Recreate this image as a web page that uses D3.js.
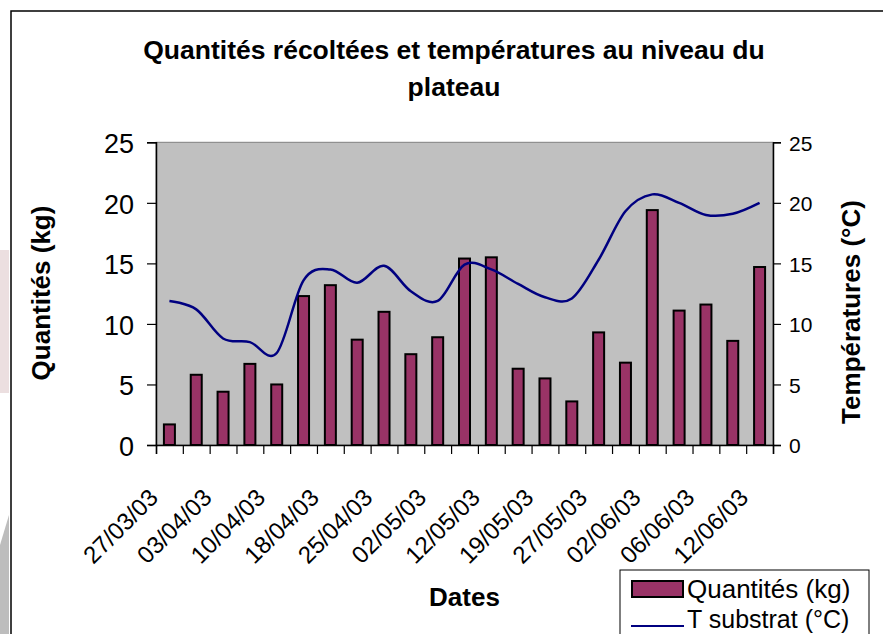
<!doctype html>
<html lang="fr">
  <head>
    <meta charset="utf-8">
    <title>Quantités récoltées et températures</title>
    <style>
      html, body { margin: 0; padding: 0; background: #fff; }
      svg { display: block; font-family: "Liberation Sans", Arial, sans-serif; }
    </style>
  </head>
  <body>
    <div id="chart"></div>

    <script src="https://cdn.jsdelivr.net/npm/d3@7"></script>
    <script>

    // dates shown on the axis (one every two categories, the others are not labelled)
    var dateLabels = ["27/03/03", "", "03/04/03", "", "10/04/03", "", "18/04/03", "", "25/04/03", "",
                      "02/05/03", "", "12/05/03", "", "19/05/03", "", "27/05/03", "", "02/06/03", "",
                      "06/06/03", "", "12/06/03"];

    // Quantités (kg)
    var quantites = [1.7, 5.8, 4.4, 6.7, 5.0, 12.3, 13.2, 8.7, 11.0, 7.5, 8.9, 15.4,
                     15.5, 6.3, 5.5, 3.6, 9.3, 6.8, 19.4, 11.1, 11.6, 8.6, 14.7];

    // T substrat (°C)
    var tSubstrat = [11.9, 11.2, 8.8, 8.5, 7.6, 13.6, 14.5, 13.4, 14.8, 12.7, 11.9, 14.9,
                     14.5, 13.3, 12.2, 12.1, 15.3, 19.3, 20.7, 20.0, 19.0, 19.1, 20.0];

    var leftTicks = [0, 5, 10, 15, 20, 25];
    var rightTicks = [0, 5, 10, 15, 20, 25];

    var width = 883, height = 634;
    var plot = {left: 156, right: 773, top: 142.3, bottom: 445};
    var n = quantites.length;

    var svg = d3.select("#chart")
        .append("svg")
        .attr("width", width)
        .attr("height", height);

    // faint marks outside the chart frame
    svg.append("rect").attr("x", 0).attr("y", 250).attr("width", 9).attr("height", 143)
        .attr("fill", "#ecdfe0");
    svg.append("path").attr("d", "M0,545 L9,515 L9,634 L0,634 Z").attr("fill", "#bdbdbd");

    // chart frame (runs off the right and bottom of the picture)
    svg.append("rect")
        .attr("x", 11).attr("y", 11)
        .attr("width", 900).attr("height", 700)
        .attr("fill", "#fff")
        .attr("stroke", "#000")
        .attr("stroke-width", 1.5);

    var x = d3.scaleBand()
        .domain(d3.range(n))
        .range([plot.left, plot.right])
        .paddingInner(0).paddingOuter(0);

    var xEdge = d3.scaleLinear()
        .domain([0, n])
        .range([plot.left, plot.right]);

    var y = d3.scaleLinear().domain([0, 25]).range([plot.bottom, plot.top]);
    var yR = d3.scaleLinear().domain([0, 25]).range([plot.bottom, plot.top]);

    // plot area
    svg.append("rect")
        .attr("x", plot.left).attr("y", plot.top)
        .attr("width", plot.right - plot.left)
        .attr("height", plot.bottom - plot.top)
        .attr("fill", "#c0c0c0")
        .attr("stroke", "#808080")
        .attr("stroke-width", 1);

    // bars
    var barW = 11;
    svg.append("g")
      .selectAll("rect")
      .data(quantites)
      .join("rect")
        .attr("x", function(d, i){ return x(i) + x.bandwidth() / 2 - barW / 2; })
        .attr("y", function(d){ return y(d); })
        .attr("width", barW)
        .attr("height", function(d){ return y(0) - y(d); })
        .attr("fill", "#993366")
        .attr("stroke", "#000")
        .attr("stroke-width", 2);

    // temperature line (smoothed like Excel)
    var line = d3.line()
        .x(function(d, i){ return x(i) + x.bandwidth() / 2; })
        .y(function(d){ return yR(d); })
        .curve(d3.curveCardinal.tension(0));

    svg.append("path")
        .datum(tSubstrat)
        .attr("d", line)
        .attr("fill", "none")
        .attr("stroke", "#000080")
        .attr("stroke-width", 2.5);

    // left axis
    var gl = svg.append("g")
        .attr("transform", "translate(" + plot.left + ",0)")
        .call(d3.axisLeft(y).tickValues(leftTicks).tickSize(9).tickPadding(13));
    gl.selectAll("text").attr("font-size", 27).attr("font-family", "Liberation Sans, Arial, sans-serif")
        .attr("fill", "#000").attr("dy", "0.38em");

    // right axis
    var gr = svg.append("g")
        .attr("transform", "translate(" + plot.right + ",0)")
        .call(d3.axisRight(yR).tickValues(rightTicks).tickSize(8).tickPadding(8));
    gr.selectAll("text").attr("font-size", 21).attr("font-family", "Liberation Sans, Arial, sans-serif")
        .attr("fill", "#000").attr("dy", "0.38em");

    // bottom axis : ticks between categories
    var gb = svg.append("g")
        .attr("transform", "translate(0," + plot.bottom + ")")
        .call(d3.axisBottom(xEdge).tickValues(d3.range(n + 1)).tickSize(9).tickFormat(""));

    svg.selectAll(".domain").attr("stroke", "#000").attr("stroke-width", 1.5);
    svg.selectAll(".tick line").attr("stroke", "#000").attr("stroke-width", 1.2);

    // date labels
    svg.append("g")
      .selectAll("text")
      .data(d3.range(n).filter(function(i){ return dateLabels[i] !== ""; }))
      .join("text")
        .attr("transform", function(i){
          return "translate(" + (x(i) + x.bandwidth() / 2 - 10) + ",499) rotate(-45)";
        })
        .attr("text-anchor", "end")
        .attr("font-size", 24)
        .text(function(i){ return dateLabels[i]; });

    // titles
    var title = svg.append("text")
        .attr("text-anchor", "middle")
        .attr("font-size", 26.5)
        .attr("font-weight", "bold");
    title.append("tspan").attr("x", 454).attr("y", 59).text("Quantités récoltées et températures au niveau du");
    title.append("tspan").attr("x", 454).attr("y", 96).text("plateau");

    svg.append("text")
        .attr("transform", "translate(50,293) rotate(-90)")
        .attr("text-anchor", "middle")
        .attr("font-size", 26)
        .attr("font-weight", "bold")
        .text("Quantités (kg)");

    svg.append("text")
        .attr("transform", "translate(860,312) rotate(-90)")
        .attr("text-anchor", "middle")
        .attr("font-size", 26)
        .attr("font-weight", "bold")
        .text("Températures (°C)");

    svg.append("text")
        .attr("x", 464.5).attr("y", 606)
        .attr("text-anchor", "middle")
        .attr("font-size", 26)
        .attr("font-weight", "bold")
        .text("Dates");

    // legend
    var lg = svg.append("g");
    lg.append("rect")
        .attr("x", 620).attr("y", 570)
        .attr("width", 249).attr("height", 100)
        .attr("fill", "#fff")
        .attr("stroke", "#000")
        .attr("stroke-width", 1);
    lg.append("rect")
        .attr("x", 632).attr("y", 581)
        .attr("width", 51).attr("height", 16)
        .attr("fill", "#993366")
        .attr("stroke", "#000")
        .attr("stroke-width", 2);
    lg.append("text")
        .attr("x", 687).attr("y", 598)
        .attr("font-size", 26)
        .text("Quantités (kg)");
    lg.append("line")
        .attr("x1", 631).attr("x2", 684)
        .attr("y1", 626).attr("y2", 626)
        .attr("stroke", "#000080")
        .attr("stroke-width", 2);
    lg.append("text")
        .attr("x", 687).attr("y", 628)
        .attr("font-size", 25)
        .text("T substrat (°C)");

    </script>
  </body>
</html>
